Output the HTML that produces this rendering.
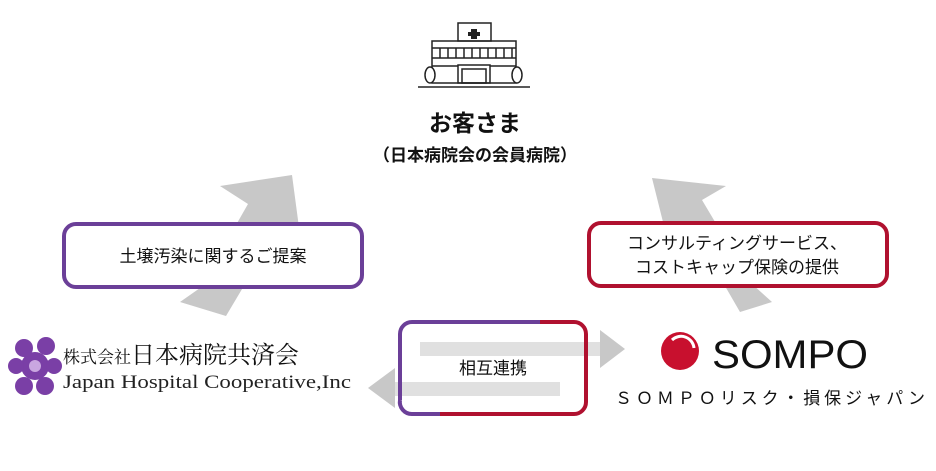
<!DOCTYPE html>
<html><head><meta charset="utf-8"><style>
html,body{margin:0;padding:0;background:#fff;}
svg{display:block;}
text{font-family:"Liberation Sans","Noto Sans CJK JP",sans-serif;fill:#111;}
text.serif{font-family:"Liberation Serif","Noto Serif CJK SC",serif;}
</style></head><body>
<svg width="936" height="471" viewBox="0 0 936 471" xmlns="http://www.w3.org/2000/svg">
<!-- building icon -->
<g fill="none" stroke="#222" stroke-width="1.5">
<rect x="458" y="23" width="33" height="18"/>
<rect x="432" y="41" width="84" height="42"/>
<line x1="432" y1="48" x2="516" y2="48"/>
<line x1="432" y1="58" x2="516" y2="58"/>
<g>
<line x1="440" y1="48" x2="440" y2="58"/><line x1="448" y1="48" x2="448" y2="58"/><line x1="456" y1="48" x2="456" y2="58"/><line x1="464" y1="48" x2="464" y2="58"/><line x1="472" y1="48" x2="472" y2="58"/><line x1="480" y1="48" x2="480" y2="58"/><line x1="488" y1="48" x2="488" y2="58"/><line x1="496" y1="48" x2="496" y2="58"/><line x1="504" y1="48" x2="504" y2="58"/><line x1="512" y1="48" x2="512" y2="58"/>
</g>
<line x1="432" y1="66" x2="458" y2="66"/><line x1="490" y1="66" x2="516" y2="66"/>
<rect x="458" y="65" width="32" height="18"/><rect x="462" y="69" width="24" height="14"/>
<ellipse cx="430" cy="75" rx="5" ry="8" fill="#fff"/><ellipse cx="517" cy="75" rx="5" ry="8" fill="#fff"/>
<line x1="418" y1="87" x2="530" y2="87"/>
</g>
<path d="M471 29h6v3h3v4h-3v3h-6v-3h-3v-4h3z" fill="#222"/>
<text x="475" y="131" font-size="23" font-weight="bold" text-anchor="middle">お客さま</text>
<text x="475" y="161" font-size="17" font-weight="bold" text-anchor="middle">（日本病院会の会員病院）</text>
<!-- diagonal arrows -->
<polygon points="180,302 226,316 276,232 302,250 292,175 220,186 248,204 200,288" fill="#c8c8c8"/>
<polygon points="772,302 740,312 688,222 668,242 652,178 726,186 702,200 752,284" fill="#c8c8c8"/>
<!-- left box -->
<rect x="64" y="224" width="298" height="63" rx="12" fill="#fff" stroke="#6b3f98" stroke-width="4"/>
<text x="213" y="262" font-size="17" text-anchor="middle">土壌汚染に関するご提案</text>
<!-- right box -->
<rect x="589" y="223" width="298" height="63" rx="12" fill="#fff" stroke="#b0112f" stroke-width="4"/>
<text x="737" y="249" font-size="17" text-anchor="middle">コンサルティングサービス、</text>
<text x="737" y="273" font-size="17" text-anchor="middle">コストキャップ保険の提供</text>
<!-- horizontal arrows -->
<rect x="420" y="342" width="182" height="14" fill="#e0e0e0"/>
<polygon points="600,330 625,349 600,368" fill="#c8c8c8"/>
<rect x="392" y="382" width="168" height="14" fill="#e0e0e0"/>
<polygon points="395,368 368,388 395,408" fill="#c8c8c8"/>
<!-- middle box -->
<path d="M400 400 V334 a12 12 0 0 1 12 -12 H540" fill="none" stroke="#6b3f98" stroke-width="4"/>
<path d="M400 400 a12 12 0 0 0 12 14 H440" fill="none" stroke="#6b3f98" stroke-width="4"/>
<path d="M540 322 H574 a12 12 0 0 1 12 12 V402 a12 12 0 0 1 -12 12 H440" fill="none" stroke="#b0112f" stroke-width="4"/>
<text x="493" y="374" font-size="17" text-anchor="middle">相互連携</text>
<!-- JHC logo -->
<g fill="#7a3fa6">
<circle cx="35" cy="366" r="14"/>
<circle cx="24" cy="348" r="9"/><circle cx="46" cy="346" r="9"/><circle cx="54" cy="366" r="8"/>
<circle cx="45" cy="386" r="9"/><circle cx="24" cy="386" r="9"/><circle cx="16" cy="366" r="8"/>
</g>
<circle cx="35" cy="366" r="6" fill="#c9a6e0"/>
<text class="serif" x="63" y="363" font-size="17">株式会社<tspan font-size="24">日本病院共済会</tspan></text>
<text class="serif" x="63" y="388" font-size="19" textLength="288" lengthAdjust="spacingAndGlyphs" style="fill:#222">Japan Hospital Cooperative,Inc</text>
<!-- SOMPO -->
<circle cx="680" cy="351" r="19" fill="#c8102e"/>
<path d="M672 340 a13 13 0 0 1 22 8" fill="none" stroke="#fff" stroke-width="3"/>
<text x="712" y="368" font-size="40" textLength="156" lengthAdjust="spacingAndGlyphs" style="fill:#111">SOMPO</text>
<text x="615" y="404" font-size="17" textLength="310" style="fill:#111">ＳＯＭＰＯリスク・損保ジャパン</text>
</svg>
</body></html>
